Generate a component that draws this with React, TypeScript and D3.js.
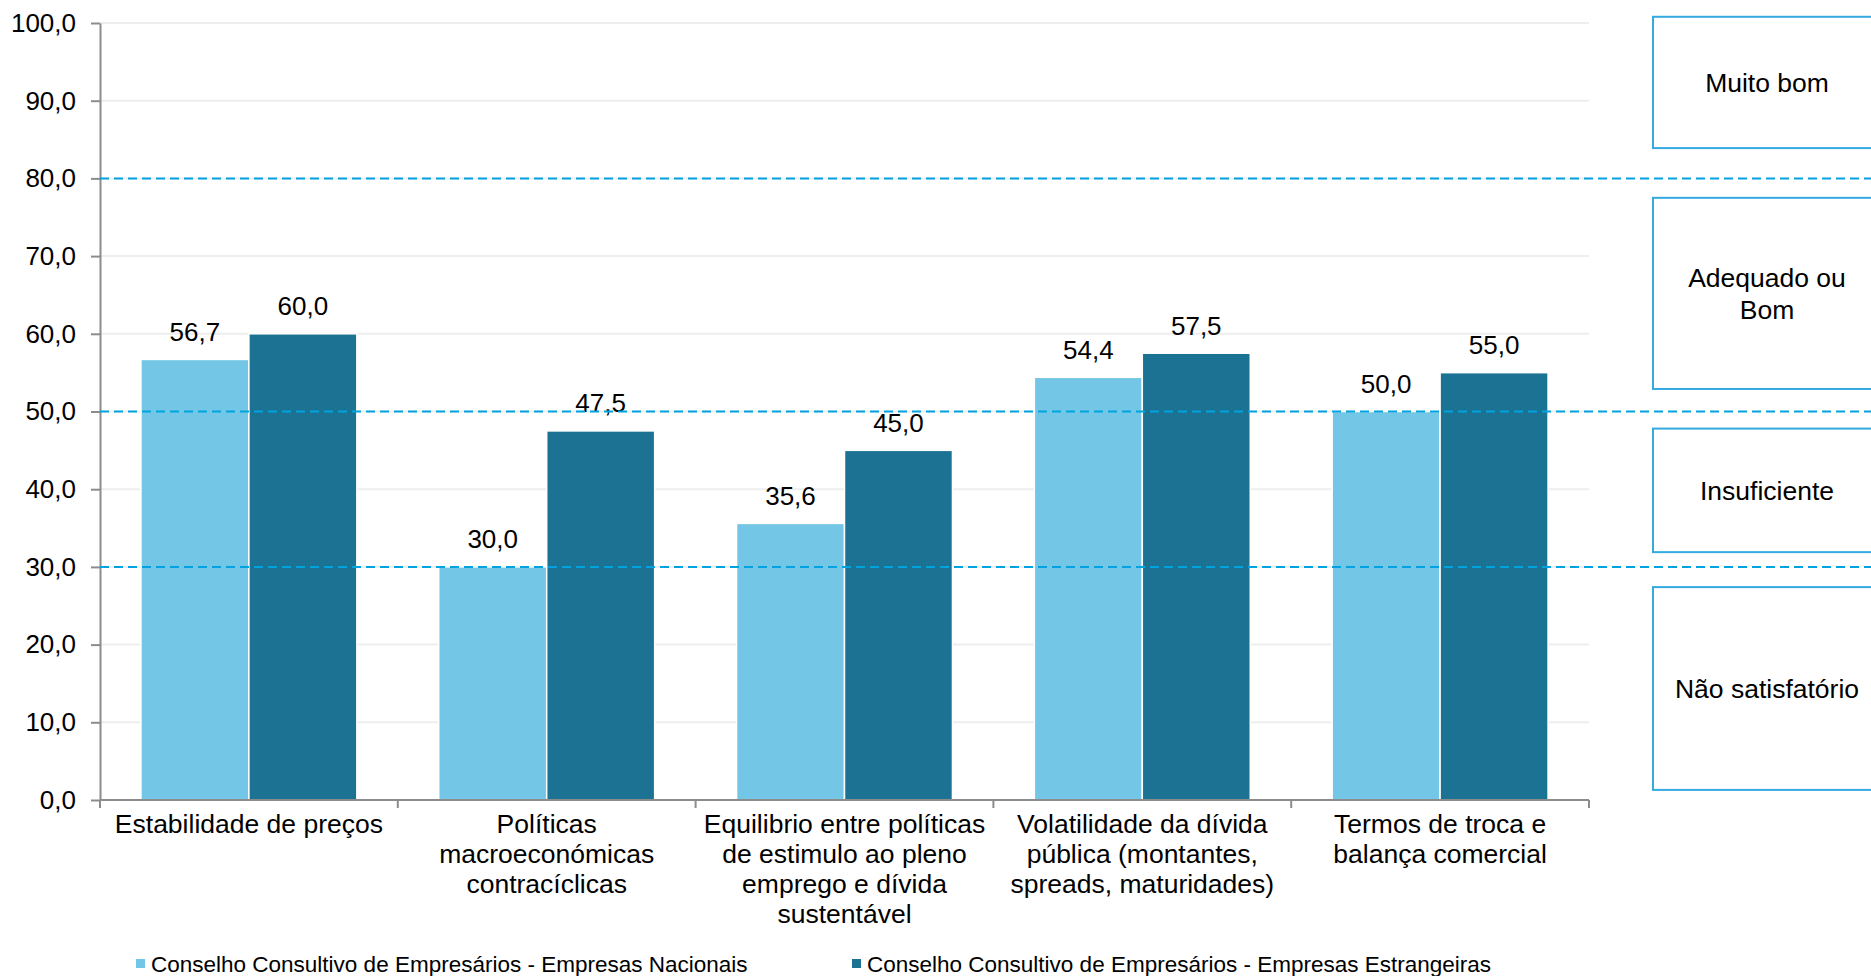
import React, { useEffect, useRef } from 'react';
import * as d3 from 'd3';

// Categories (already broken into lines as in the source chart)
const categories: string[][] = [
  ['Estabilidade de preços'],
  ['Políticas', 'macroeconómicas', 'contracíclicas'],
  ['Equilibrio entre políticas', 'de estimulo ao pleno', 'emprego e dívida', 'sustentável'],
  ['Volatilidade da dívida', 'pública (montantes,', 'spreads, maturidades)'],
  ['Termos de troca e', 'balança comercial'],
];

const seriesNames = [
  'Conselho Consultivo de Empresários - Empresas Nacionais',
  'Conselho Consultivo de Empresários - Empresas Estrangeiras',
];
const nacionais = [56.7, 30.0, 35.6, 54.4, 50.0];
const estrangeiras = [60.0, 47.5, 45.0, 57.5, 55.0];

const yTicks = [0, 10, 20, 30, 40, 50, 60, 70, 80, 90, 100];
const thresholds = [80, 50, 30];

// rating zones shown on the right, in axis units
const zoneLabels = [['Muito bom'], ['Adequado ou', 'Bom'], ['Insuficiente'], ['Não satisfatório']];
const zoneTops = [100.8, 77.5, 47.8, 27.4];
const zoneBottoms = [83.9, 52.9, 31.9, 1.3];

const colors = ['#73c6e5', '#1b7293'];
const FONT = '"Liberation Sans", Arial, sans-serif';

const App = () => {
  const svgRef = useRef<SVGSVGElement>(null);

  useEffect(() => {
    if (!svgRef.current) return;
    const W = 1871;
    const H = 976;
    const left = 100;
    const right = 1589;
    const top = 23;
    const bottom = 800;

    const svg = d3.select(svgRef.current);
    svg.selectAll('*').remove();
    svg.attr('width', W).attr('height', H).style('font-family', FONT);

    const idx = categories.map((_, i) => String(i));

    const x0 = d3.scaleBand<string>()
      .domain(idx)
      .range([left, right])
      .paddingInner(0.275)
      .paddingOuter(0.1375);

    const x1 = d3.scaleBand<string>()
      .domain(['0', '1'])
      .range([0, x0.bandwidth()]);

    const y = d3.scaleLinear().domain([0, 100]).range([bottom, top]);

    const fmt = (v: number) => d3.format('.1f')(v).replace('.', ',');

    // gridlines
    svg.append('g')
      .selectAll('line')
      .data(yTicks.filter(t => t > 0))
      .enter()
      .append('line')
      .attr('x1', left)
      .attr('x2', right)
      .attr('y1', d => y(d))
      .attr('y2', d => y(d))
      .attr('stroke', '#eeeeee')
      .attr('stroke-width', 2);

    // bars
    const table = idx.map((k, i) => ({ k, values: [nacionais[i], estrangeiras[i]] }));
    const groups = svg.append('g')
      .selectAll('g')
      .data(table)
      .enter()
      .append('g')
      .attr('transform', d => `translate(${x0(d.k)},0)`);

    groups.selectAll('rect')
      .data(d => d.values.map((v, s) => ({ v, s })))
      .enter()
      .append('rect')
      .attr('x', d => x1(String(d.s)) as number)
      .attr('y', d => y(d.v))
      .attr('width', x1.bandwidth())
      .attr('height', d => bottom - y(d.v))
      .attr('fill', d => colors[d.s])
      .attr('stroke', '#ffffff')
      .attr('stroke-width', 1.5);

    groups.selectAll('text')
      .data(d => d.values.map((v, s) => ({ v, s })))
      .enter()
      .append('text')
      .attr('x', d => (x1(String(d.s)) as number) + x1.bandwidth() / 2)
      .attr('y', d => y(d.v) - 18.5)
      .attr('text-anchor', 'middle')
      .attr('font-size', 26)
      .attr('fill', '#000')
      .text(d => fmt(d.v));

    // y axis
    const yAxis = svg.append('g')
      .attr('transform', `translate(${left},0)`)
      .call(d3.axisLeft(y).tickValues(yTicks).tickSize(9).tickSizeOuter(0).tickPadding(15).tickFormat(d => fmt(d as number)));
    yAxis.select('.domain').attr('stroke', '#8c8c8c').attr('stroke-width', 2);
    yAxis.selectAll('.tick line').attr('stroke', '#8c8c8c').attr('stroke-width', 2);
    yAxis.selectAll('.tick text')
      .attr('font-size', 26)
      .attr('font-family', FONT)
      .attr('fill', '#000');

    // x axis with ticks at category boundaries
    const xAxis = svg.append('g');
    xAxis.append('line')
      .attr('x1', left)
      .attr('x2', right)
      .attr('y1', bottom)
      .attr('y2', bottom)
      .attr('stroke', '#8c8c8c')
      .attr('stroke-width', 2);
    const bounds = d3.range(categories.length + 1).map(i => left + i * x0.step());
    xAxis.selectAll('.bt')
      .data(bounds)
      .enter()
      .append('line')
      .attr('x1', d => d)
      .attr('x2', d => d)
      .attr('y1', bottom)
      .attr('y2', bottom + 8)
      .attr('stroke', '#8c8c8c')
      .attr('stroke-width', 2);

    const catText = xAxis.selectAll('.cat')
      .data(categories)
      .enter()
      .append('text')
      .attr('text-anchor', 'middle')
      .attr('font-size', 26.5)
      .attr('fill', '#000')
      .attr('transform', (_, i) => `translate(${(x0(idx[i]) as number) + x0.bandwidth() / 2},${bottom + 33})`);
    catText.selectAll('tspan')
      .data(d => d)
      .enter()
      .append('tspan')
      .attr('x', 0)
      .attr('y', (_, j) => j * 30)
      .text(d => d);

    // threshold lines drawn on top
    svg.append('g')
      .selectAll('line')
      .data(thresholds)
      .enter()
      .append('line')
      .attr('x1', left)
      .attr('x2', W)
      .attr('y1', d => y(d))
      .attr('y2', d => y(d))
      .attr('stroke', '#00a3e0')
      .attr('stroke-width', 2)
      .attr('stroke-dasharray', '9,5');

    // rating boxes on the right
    const zoneX = 1653;
    const zoneW = 228;
    const zones = svg.append('g')
      .selectAll('g')
      .data(zoneLabels.map((lines, i) => ({ lines, t: zoneTops[i], b: zoneBottoms[i] })))
      .enter()
      .append('g');
    zones.append('rect')
      .attr('x', zoneX)
      .attr('y', d => y(d.t))
      .attr('width', zoneW)
      .attr('height', d => y(d.b) - y(d.t))
      .attr('fill', '#fff')
      .attr('stroke', '#33aae0')
      .attr('stroke-width', 2);
    zones.append('text')
      .attr('text-anchor', 'middle')
      .attr('font-size', 26.5)
      .attr('fill', '#000')
      .attr('transform', d => {
        const cy = (y(d.t) + y(d.b)) / 2;
        const first = cy + 9.5 - ((d.lines.length - 1) * 32) / 2;
        return `translate(${zoneX + zoneW / 2},${first})`;
      })
      .selectAll('tspan')
      .data(d => d.lines)
      .enter()
      .append('tspan')
      .attr('x', 0)
      .attr('y', (_, j) => j * 32)
      .text(d => d);

    // legend
    const legendX = [136, 852];
    const legend = svg.append('g')
      .selectAll('g')
      .data(seriesNames)
      .enter()
      .append('g')
      .attr('transform', (_, i) => `translate(${legendX[i]},972)`);
    legend.append('rect')
      .attr('x', 0)
      .attr('y', -13)
      .attr('width', 9)
      .attr('height', 9)
      .attr('fill', (_, i) => colors[i]);
    legend.append('text')
      .attr('x', 15)
      .attr('y', 0)
      .attr('font-size', 22.5)
      .attr('fill', '#000')
      .text(d => d);
  }, []);

  return (
    <svg
      ref={svgRef}
      style={{ position: 'absolute', left: 0, top: 0, display: 'block', background: '#fff' }}
    />
  );
};

export default App;
